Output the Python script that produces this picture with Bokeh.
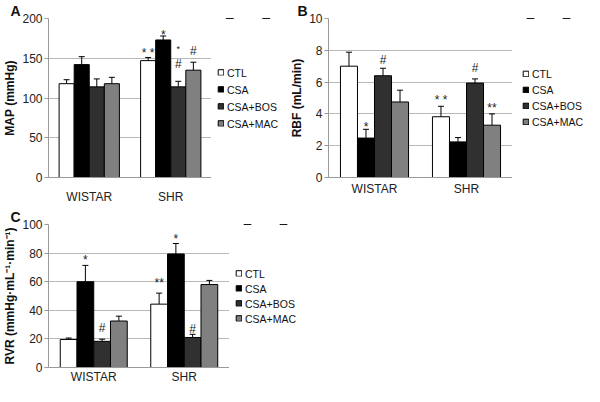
from bokeh.plotting import figure
from bokeh.models import (ColumnDataSource, FactorRange, Range1d, Whisker, TeeHead,
                          Legend, LegendItem, FixedTicker)
from bokeh.transform import dodge
from bokeh.layouts import column, row
from bokeh.embed import file_html
from bokeh.resources import INLINE
from bokeh.core.properties import value

# ---------------- data ----------------
groups = ["WISTAR", "SHR"]
treatments = ["CTL", "CSA", "CSA+BOS", "CSA+MAC"]

# Panel A: MAP (mmHg), values per treatment in order of `treatments`
map_mean_wistar = [118, 142, 114, 118]
map_mean_shr = [147, 173, 114, 135]
map_sem_wistar = [5, 10, 10, 8]
map_sem_shr = [4, 5, 7, 10]
map_marks_wistar = ["", "", "", ""]
map_marks_shr = ["* *", "*", "#", "#"]
map_marks2_shr = ["", "", "*", ""]

# Panel B: RBF (mL/min)
rbf_mean_wistar = [7.0, 2.48, 6.4, 4.75]
rbf_mean_shr = [3.82, 2.24, 5.94, 3.29]
rbf_sem_wistar = [0.88, 0.55, 0.47, 0.74]
rbf_sem_shr = [0.66, 0.27, 0.26, 0.71]
rbf_marks_wistar = ["", "*", "#", ""]
rbf_marks_shr = ["* *", "", "#", "**"]

# Panel C: RVR (mmHg·mL-1·min-1)
rvr_mean_wistar = [19.6, 60.0, 18.3, 32.5]
rvr_mean_shr = [44.3, 79.4, 21.0, 58.0]
rvr_sem_wistar = [1.0, 11.4, 1.5, 3.4]
rvr_sem_shr = [7.7, 7.3, 2.2, 2.9]
rvr_marks_wistar = ["", "*", "#", ""]
rvr_marks_shr = ["**", "*", "#", ""]

y_ticks_a = [0, 50, 100, 150, 200]
y_ticks_b = [0, 2, 4, 6, 8, 10]
y_ticks_c = [0, 20, 40, 60, 80, 100]

# ---------------- styles ----------------
FONT = "Liberation Sans"
fills = ["#ffffff", "#000000", "#303030", "#808080"]
bar_w = 0.185
offsets = [-1.5 * bar_w, -0.5 * bar_w, 0.5 * bar_w, 1.5 * bar_w]


def make_panel(letter, ylabel, yend, ticks, means, sems, marks, mark_off,
               w, h, bl, bb, letter_off, leg_w, leg_margin, leg_spacing,
               extra_marks=None, extra_off=None, label_standoff=12):
    p = figure(x_range=FactorRange(*groups), y_range=(0, yend),
               width=w, height=h, title=letter,
               min_border_left=bl, min_border_top=0, min_border_right=0,
               min_border_bottom=bb, output_backend="svg", toolbar_location=None,
               tools="")
    p.title.align = "left"
    p.title.offset = letter_off
    p.title.standoff = 0
    p.title.text_font = FONT
    p.title.text_font_size = "14px"
    p.title.text_font_style = "bold"
    p.title.text_color = "#111111"
    p.outline_line_color = None
    p.background_fill_color = "white"
    p.border_fill_color = "white"
    p.xgrid.grid_line_color = None
    p.ygrid.grid_line_color = "#b8b8b8"
    p.ygrid.grid_line_width = 1
    p.yaxis.ticker = FixedTicker(ticks=ticks)
    p.yaxis.axis_label = ylabel
    p.yaxis.axis_label_text_font = FONT
    p.yaxis.axis_label_text_font_style = "bold"
    p.yaxis.axis_label_text_font_size = "12px"
    p.yaxis.axis_label_text_color = "#111111"
    p.yaxis.axis_label_standoff = 2
    p.yaxis.major_label_standoff = 2
    p.yaxis.major_label_text_font = FONT
    p.yaxis.major_label_text_font_size = "12px"
    p.yaxis.major_label_text_color = "#222222"
    p.yaxis.axis_line_color = "#999999"
    p.yaxis.major_tick_line_color = "#999999"
    p.yaxis.major_tick_out = 4
    p.yaxis.major_tick_in = 0
    p.yaxis.minor_tick_line_color = None
    p.xaxis.axis_line_color = "#999999"
    p.xaxis.major_tick_line_color = None
    p.xaxis.major_tick_out = 0
    p.xaxis.major_tick_in = 0
    p.xaxis.major_label_text_font = FONT
    p.xaxis.major_label_text_font_size = "12px"
    p.xaxis.major_label_text_color = "#222222"
    p.xaxis.major_label_standoff = label_standoff

    # legend lives in its own small figure to the right of the chart
    lg = figure(x_range=FactorRange(*groups), y_range=Range1d(-2, -1),
                width=leg_w, height=h, min_border=0, x_axis_type=None,
                y_axis_type=None, output_backend="svg", toolbar_location=None,
                tools="")
    lg.outline_line_color = None
    lg.xgrid.grid_line_color = None
    lg.ygrid.grid_line_color = None

    items = []
    for i, t in enumerate(treatments):
        m = [means[0][i], means[1][i]]
        s = [sems[0][i], sems[1][i]]
        src = ColumnDataSource(dict(
            g=groups, top=m, up=[a + b for a, b in zip(m, s)],
            mark=[marks[0][i], marks[1][i]],
            yoff=[mark_off[0][i], mark_off[1][i]]))
        xd = dodge("g", offsets[i], range=p.x_range)
        p.vbar(x=xd, top="top", width=bar_w, source=src,
               fill_color=fills[i], line_color="black", line_width=1)
        wk = Whisker(base=xd, lower="top", upper="up", source=src,
                     line_color="black", line_width=1,
                     upper_head=TeeHead(size=6, line_color="black", line_width=1),
                     lower_head=None)
        p.add_layout(wk)
        p.text(x=xd, y="up", text="mark", y_offset="yoff", source=src,
               text_font=value(FONT), text_font_size="12px", text_color="#222222",
               text_align="center", text_baseline="middle")
        if extra_marks is not None:
            src2 = ColumnDataSource(dict(
                g=groups, up=[a + b for a, b in zip(m, s)],
                mark=[extra_marks[0][i], extra_marks[1][i]],
                yoff=[extra_off[0][i], extra_off[1][i]]))
            p.text(x=xd, y="up", text="mark", y_offset="yoff", source=src2,
                   text_font=value(FONT), text_font_size="9px", text_color="#222222",
                   text_align="center", text_baseline="middle")
        # legend handle (bars fall outside the legend figure's visible range)
        lr = lg.vbar(x="g", top="top", width=bar_w, source=src,
                     fill_color=fills[i], line_color="black", line_width=1)
        items.append(LegendItem(label=t, renderers=[lr]))

    leg = Legend(items=items, location="center_left", orientation="vertical",
                 glyph_width=7, glyph_height=7, label_height=12, label_standoff=3,
                 spacing=leg_spacing, padding=0, margin=leg_margin,
                 label_text_font=FONT, label_text_font_size="10.5px",
                 label_text_color="#111111",
                 border_line_color=None, background_fill_alpha=0)
    lg.add_layout(leg)
    return p, lg


pA, lA = make_panel("A", "MAP (mmHg)", 200, y_ticks_a,
                    [map_mean_wistar, map_mean_shr], [map_sem_wistar, map_sem_shr],
                    [map_marks_wistar, map_marks_shr],
                    [[0, 0, 0, 0], [-4, -1, -17, -11]],
                    w=211, h=206, bl=41, bb=26, letter_off=-38,
                    leg_w=73, leg_margin=6, leg_spacing=5,
                    extra_marks=[["", "", "", ""], map_marks2_shr],
                    extra_off=[[0, 0, 0, 0], [0, 0, -32, 0]], label_standoff=12)

pB, lB = make_panel("B", "RBF (mL/min)", 10, y_ticks_b,
                    [rbf_mean_wistar, rbf_mean_shr], [rbf_sem_wistar, rbf_sem_shr],
                    [rbf_marks_wistar, rbf_marks_shr],
                    [[0, -2, -8, 0], [-6, 0, -11, -6]],
                    w=228, h=206, bl=44, bb=26, letter_off=-31,
                    leg_w=72, leg_margin=10, leg_spacing=4,
                    label_standoff=4)

pC, lC = make_panel("C", "RVR (mmHg·mL⁻¹·min⁻¹)", 100, y_ticks_c,
                    [rvr_mean_wistar, rvr_mean_shr], [rvr_sem_wistar, rvr_sem_shr],
                    [rvr_marks_wistar, rvr_marks_shr],
                    [[0, -5, -11, 0], [-10, -5, -5, 0]],
                    w=229, h=180, bl=39, bb=0, letter_off=-38,
                    leg_w=72, leg_margin=6, leg_spacing=3,
                    label_standoff=2)

layout = column(row(pA, lA, pB, lB), row(pC, lC))
open("out.html", "w").write(file_html(layout, INLINE))
